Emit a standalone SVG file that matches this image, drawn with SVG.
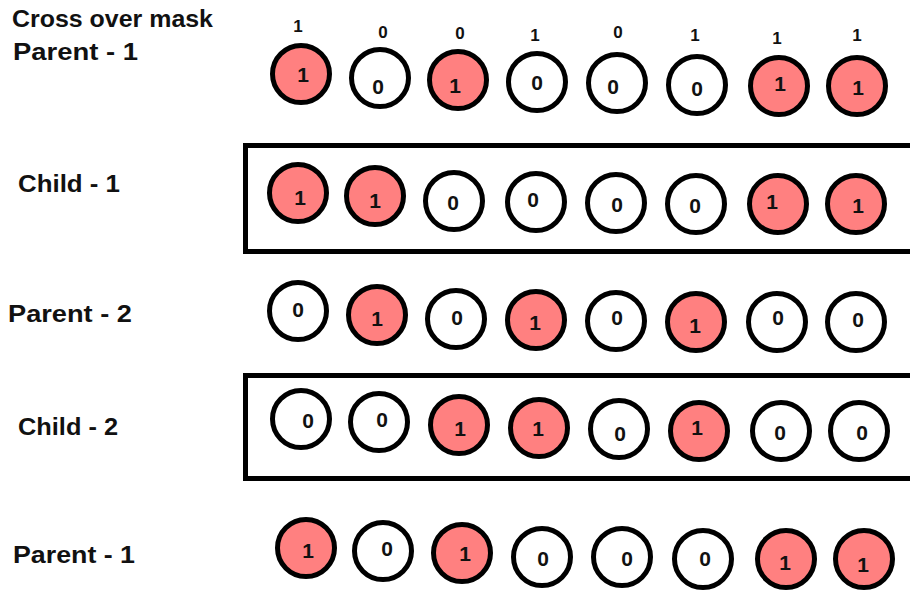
<svg xmlns="http://www.w3.org/2000/svg" width="910" height="592" viewBox="0 0 910 592">
<style>
  .lbl{font-family:"Liberation Sans",Arial,sans-serif;font-weight:bold;font-size:23px;fill:#111}
  .mask{font-family:"Liberation Sans",Arial,sans-serif;font-weight:bold;font-size:17px;fill:#111;text-anchor:middle}
  .g{stroke:#000;stroke-width:5}
  .on{fill:#ff8080}
  .off{fill:#fff}
  .d{font-family:"Liberation Sans",Arial,sans-serif;font-weight:bold;font-size:21px;fill:#111;text-anchor:middle}
  .box{fill:none;stroke:#000;stroke-width:5}
</style>
<rect width="910" height="592" fill="#fff"/>

<g id="labels">
  <text class="lbl" x="12" y="27" textLength="201" lengthAdjust="spacingAndGlyphs">Cross over mask</text>
  <text class="lbl" x="13" y="60" textLength="125" lengthAdjust="spacingAndGlyphs">Parent - 1</text>
  <text class="lbl" x="18" y="192" textLength="102" lengthAdjust="spacingAndGlyphs">Child - 1</text>
  <text class="lbl" x="8" y="322" textLength="124" lengthAdjust="spacingAndGlyphs">Parent - 2</text>
  <text class="lbl" x="18" y="435" textLength="100" lengthAdjust="spacingAndGlyphs">Child - 2</text>
  <text class="lbl" x="13" y="563" textLength="122" lengthAdjust="spacingAndGlyphs">Parent - 1</text>
</g>

<g id="mask">
  <text class="mask" x="298" y="32">1</text>
  <text class="mask" x="383" y="38">0</text>
  <text class="mask" x="460" y="39">0</text>
  <text class="mask" x="535" y="41">1</text>
  <text class="mask" x="618" y="38">0</text>
  <text class="mask" x="695" y="41">1</text>
  <text class="mask" x="777" y="44">1</text>
  <text class="mask" x="857" y="41">1</text>
</g>

<g id="child1-box"><rect class="box" x="245.5" y="145.5" width="680" height="106"/></g>
<g id="child2-box"><rect class="box" x="245.5" y="375.5" width="680" height="103"/></g>

<g id="parent1-top">
  <g id="p1-1"><circle class="g on" cx="301" cy="74" r="28.5"/><text class="d" x="303" y="82">1</text></g>
  <g id="p1-2"><circle class="g off" cx="380" cy="78" r="28.5"/><text class="d" x="378" y="94">0</text></g>
  <g id="p1-3"><circle class="g on" cx="458" cy="80" r="28.5"/><text class="d" x="455" y="93">1</text></g>
  <g id="p1-4"><circle class="g off" cx="537" cy="82" r="28.5"/><text class="d" x="537" y="90">0</text></g>
  <g id="p1-5"><circle class="g off" cx="617" cy="83" r="28.5"/><text class="d" x="613" y="94">0</text></g>
  <g id="p1-6"><circle class="g off" cx="697" cy="85" r="28.5"/><text class="d" x="697" y="96">0</text></g>
  <g id="p1-7"><circle class="g on" cx="779" cy="86" r="28.5"/><text class="d" x="780" y="91">1</text></g>
  <g id="p1-8"><circle class="g on" cx="857" cy="86" r="28.5"/><text class="d" x="858" y="95">1</text></g>
</g>

<g id="child1">
  <g id="c1-1"><circle class="g on" cx="298" cy="193" r="28.5"/><text class="d" x="300" y="205">1</text></g>
  <g id="c1-2"><circle class="g on" cx="375" cy="196" r="28.5"/><text class="d" x="375" y="208">1</text></g>
  <g id="c1-3"><circle class="g off" cx="454" cy="201" r="28.5"/><text class="d" x="453" y="210">0</text></g>
  <g id="c1-4"><circle class="g off" cx="536" cy="202" r="28.5"/><text class="d" x="533" y="207">0</text></g>
  <g id="c1-5"><circle class="g off" cx="616" cy="203" r="28.5"/><text class="d" x="617" y="212">0</text></g>
  <g id="c1-6"><circle class="g off" cx="696" cy="204" r="28.5"/><text class="d" x="695" y="213">0</text></g>
  <g id="c1-7"><circle class="g on" cx="778" cy="204" r="28.5"/><text class="d" x="772" y="209">1</text></g>
  <g id="c1-8"><circle class="g on" cx="856" cy="204" r="28.5"/><text class="d" x="858" y="213">1</text></g>
</g>

<g id="parent2">
  <g id="p2-1"><circle class="g off" cx="298" cy="311" r="28.5"/><text class="d" x="298" y="317">0</text></g>
  <g id="p2-2"><circle class="g on" cx="377" cy="315" r="28.5"/><text class="d" x="377" y="326">1</text></g>
  <g id="p2-3"><circle class="g off" cx="456" cy="319" r="28.5"/><text class="d" x="457" y="325">0</text></g>
  <g id="p2-4"><circle class="g on" cx="536" cy="320" r="28.5"/><text class="d" x="535" y="330">1</text></g>
  <g id="p2-5"><circle class="g off" cx="616" cy="321" r="28.5"/><text class="d" x="617" y="325">0</text></g>
  <g id="p2-6"><circle class="g on" cx="696" cy="322" r="28.5"/><text class="d" x="695" y="333">1</text></g>
  <g id="p2-7"><circle class="g off" cx="777" cy="322" r="28.5"/><text class="d" x="778" y="325">0</text></g>
  <g id="p2-8"><circle class="g off" cx="856" cy="322" r="28.5"/><text class="d" x="858" y="327">0</text></g>
</g>

<g id="child2">
  <g id="c2-1"><circle class="g off" cx="301" cy="419" r="28.5"/><text class="d" x="308" y="428">0</text></g>
  <g id="c2-2"><circle class="g off" cx="379" cy="422" r="28.5"/><text class="d" x="382" y="427">0</text></g>
  <g id="c2-3"><circle class="g on" cx="459" cy="425" r="28.5"/><text class="d" x="460" y="436">1</text></g>
  <g id="c2-4"><circle class="g on" cx="539" cy="428" r="28.5"/><text class="d" x="538" y="436">1</text></g>
  <g id="c2-5"><circle class="g off" cx="619" cy="429" r="28.5"/><text class="d" x="620" y="441">0</text></g>
  <g id="c2-6"><circle class="g on" cx="699" cy="431" r="28.5"/><text class="d" x="697" y="435">1</text></g>
  <g id="c2-7"><circle class="g off" cx="781" cy="431" r="28.5"/><text class="d" x="780" y="440">0</text></g>
  <g id="c2-8"><circle class="g off" cx="859" cy="431" r="28.5"/><text class="d" x="862" y="440">0</text></g>
</g>

<g id="parent1-bottom">
  <g id="p1b-1"><circle class="g on" cx="306" cy="548" r="28.5"/><text class="d" x="308" y="558">1</text></g>
  <g id="p1b-2"><circle class="g off" cx="383" cy="551" r="28.5"/><text class="d" x="387" y="556">0</text></g>
  <g id="p1b-3"><circle class="g on" cx="462" cy="553" r="28.5"/><text class="d" x="465" y="561">1</text></g>
  <g id="p1b-4"><circle class="g off" cx="542" cy="557" r="28.5"/><text class="d" x="543" y="566">0</text></g>
  <g id="p1b-5"><circle class="g off" cx="622" cy="557" r="28.5"/><text class="d" x="627" y="566">0</text></g>
  <g id="p1b-6"><circle class="g off" cx="703" cy="559" r="28.5"/><text class="d" x="705" y="566">0</text></g>
  <g id="p1b-7"><circle class="g on" cx="786" cy="559" r="28.5"/><text class="d" x="785" y="570">1</text></g>
  <g id="p1b-8"><circle class="g on" cx="864" cy="559" r="28.5"/><text class="d" x="863" y="572">1</text></g>
</g>
</svg>
